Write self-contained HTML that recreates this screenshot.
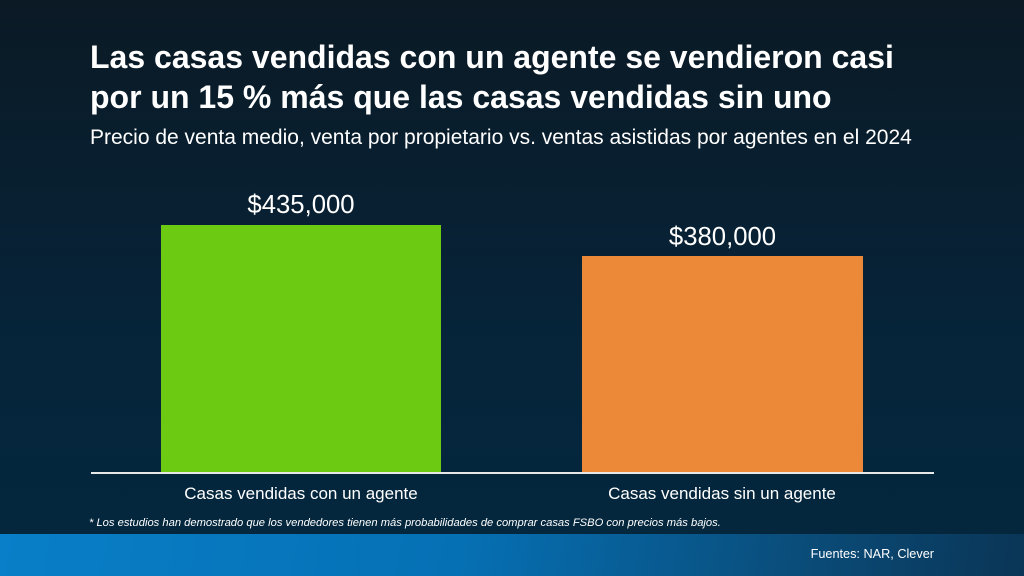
<!DOCTYPE html><html><head><meta charset="utf-8"><style>
body{margin:0;width:1024px;height:576px;overflow:hidden;position:relative;font-family:"Liberation Sans",sans-serif;color:#fff;background:linear-gradient(180deg,#0b1a25 0%,#06243a 60%,#03283f 100%)}
div{position:absolute;white-space:nowrap}
</style></head><body>
<div style="left:90px;top:37px;font-size:32px;font-weight:bold;line-height:40px;width:920px">Las casas vendidas con un agente se vendieron casi<br>por un 15 % más que las casas vendidas sin uno</div>
<div style="left:90px;top:126px;font-size:21px">Precio de venta medio, venta por propietario vs. ventas asistidas por agentes en el 2024</div>
<div style="left:161px;top:225px;width:280px;height:248px;background:#6dca12"></div>
<div style="left:582px;top:256px;width:281px;height:217px;background:#ec8939"></div>
<div style="left:161px;top:191px;width:280px;text-align:center;font-size:25.7px">$435,000</div>
<div style="left:582px;top:223px;width:281px;text-align:center;font-size:25.7px">$380,000</div>
<div style="left:91px;top:472px;width:843px;height:2px;background:#e8e8e8"></div>
<div style="left:141px;top:484px;width:320px;text-align:center;font-size:17px">Casas vendidas con un agente</div>
<div style="left:562px;top:484px;width:320px;text-align:center;font-size:17px">Casas vendidas sin un agente</div>
<div style="left:89px;top:517px;font-size:11.2px;font-style:italic">* Los estudios han demostrado que los vendedores tienen más probabilidades de comprar casas FSBO con precios más bajos.</div>
<div style="left:0;top:534px;width:1024px;height:42px;background:linear-gradient(100deg,#087fc8 0%,#0670b4 45%,#0a4a76 80%,#0a3556 100%)"></div>
<div style="left:700px;top:547px;width:234px;text-align:right;font-size:12.7px">Fuentes: NAR, Clever</div>
</body></html>
